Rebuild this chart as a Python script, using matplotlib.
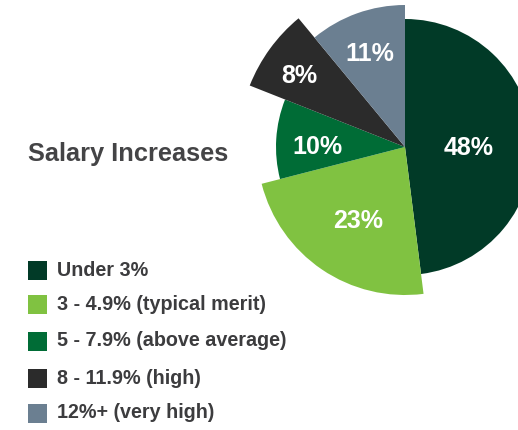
import matplotlib
matplotlib.use("Agg")
import numpy as np
import matplotlib.pyplot as plt
from matplotlib.patches import Wedge, Rectangle

categories = ["Under 3%", "3 - 4.9% (typical merit)", "5 - 7.9% (above average)",
              "8 - 11.9% (high)", "12%+ (very high)"]
shares = [48, 23, 10, 8, 11]
pct_labels = ["48%", "23%", "10%", "8%", "11%"]
colors = ["#013A27", "#80C241", "#006C36", "#2B2B2B", "#6B7F91"]

# each slice is drawn with its own radius (pixels) and label distance
radii = [128, 148, 129, 167, 142]
label_frac = [0.5, 0.56, 0.68, 0.78, 0.74]

plt.rcParams["font.family"] = ["Liberation Sans", "DejaVu Sans"]

W, H = 518, 430
fig = plt.figure(figsize=(W / 100, H / 100), dpi=100, facecolor="white")
ax = fig.add_axes([0, 0, 1, 1])
ax.set_xlim(0, W)
ax.set_ylim(0, H)
ax.set_aspect("equal")
ax.axis("off")

cx, cy = 405, H - 147
start = 90.0
for share, r, col, lab, f in zip(shares, radii, colors, pct_labels, label_frac):
    sweep = share / sum(shares) * 360
    end = start - sweep
    ax.add_patch(Wedge((cx, cy), r, end, start, facecolor=col, edgecolor="none"))
    mid = np.deg2rad((start + end) / 2)
    ax.text(cx + f * r * np.cos(mid), cy + f * r * np.sin(mid) - 3, lab,
            color="white", fontsize=18, fontweight="bold", ha="center", va="center_baseline")
    start = end

ax.text(28, H - 154, "Salary Increases", fontsize=18.3, fontweight="bold",
        color="#444446", ha="left", va="center")

rows = [270, 304, 341, 378, 413]
for y, col, name in zip(rows, colors, categories):
    ax.add_patch(Rectangle((28, H - y - 9.5), 19, 19, facecolor=col, edgecolor="none"))
    ax.text(57, H - y, name, fontsize=14.2, fontweight="bold", color="#3C3C3E",
            ha="left", va="center")

fig.savefig("out.png", dpi=100, facecolor="white")
